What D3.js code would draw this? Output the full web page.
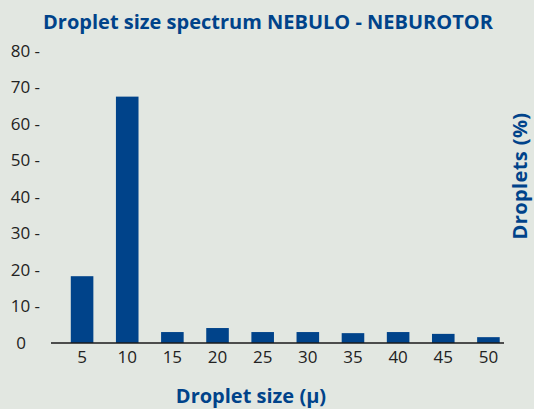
<!DOCTYPE html>
<html><head><meta charset="utf-8">
<script src="https://cdn.jsdelivr.net/npm/d3@7"></script>
<style>
html,body{margin:0;padding:0;background:#e2e7e1;}
svg{display:block;}
text{font-family:"Open Sans","Noto Sans",sans-serif;}
</style></head>
<body>
<svg id="c" width="534" height="409"></svg>
<script>
const categories = ["5","10","15","20","25","30","35","40","45","50"];
const values = [18.3, 67.5, 3.0, 4.1, 3.0, 3.0, 2.7, 3.0, 2.5, 1.6];
const yTicks = [0,10,20,30,40,50,60,70,80];
const title = "Droplet size spectrum NEBULO - NEBUROTOR";
const xTitle = "Droplet size (μ)";
const yTitle = "Droplets (%)";

const svg = d3.select("#c");
const blue = "#00438a";
const x = d3.scaleBand().domain(categories).range([59.5, 511]).paddingInner(0.5).paddingOuter(0.25);
const y = d3.scaleLinear().domain([0,80]).range([343, 51]);

svg.append("rect").attr("width",534).attr("height",409).attr("fill","#e2e7e1");

svg.append("text").attr("x",268).attr("y",29).attr("text-anchor","middle")
  .attr("font-size",20).attr("font-weight","bold").attr("fill",blue).text(title);

// y tick labels
svg.append("g").selectAll("text").data(yTicks).join("text")
  .attr("x", d => d===0 ? 26 : 40)
  .attr("y", d => y(d)).attr("dy","0.35em")
  .attr("text-anchor","end").attr("font-size",17).attr("fill","#222")
  .text(d => d===0 ? "0" : d + " -");

// bars
svg.append("g").selectAll("rect").data(values).join("rect")
  .attr("x",(d,i)=>x(categories[i]))
  .attr("width",x.bandwidth())
  .attr("y",d=>y(d))
  .attr("height",d=>y(0)-y(d))
  .attr("fill",blue);

// baseline
svg.append("line").attr("x1",51).attr("x2",504).attr("y1",y(0)).attr("y2",y(0))
  .attr("stroke","#1a1a1a").attr("stroke-width",1.3);

// x tick labels
svg.append("g").selectAll("text").data(categories).join("text")
  .attr("x",d=>x(d)+x.bandwidth()/2).attr("y",357).attr("dy","0.35em")
  .attr("text-anchor","middle").attr("font-size",17).attr("fill","#222").text(d=>d);

svg.append("text").attr("x",251).attr("y",396).attr("dy","0.35em").attr("text-anchor","middle")
  .attr("font-size",20).attr("font-weight","bold").attr("fill",blue).text(xTitle);

svg.append("text").attr("transform","translate(520,176) rotate(-90)").attr("dy","0.35em")
  .attr("text-anchor","middle").attr("font-size",20).attr("font-weight","bold")
  .attr("letter-spacing",0.4).attr("fill",blue).text(yTitle);
</script>
</body></html>
